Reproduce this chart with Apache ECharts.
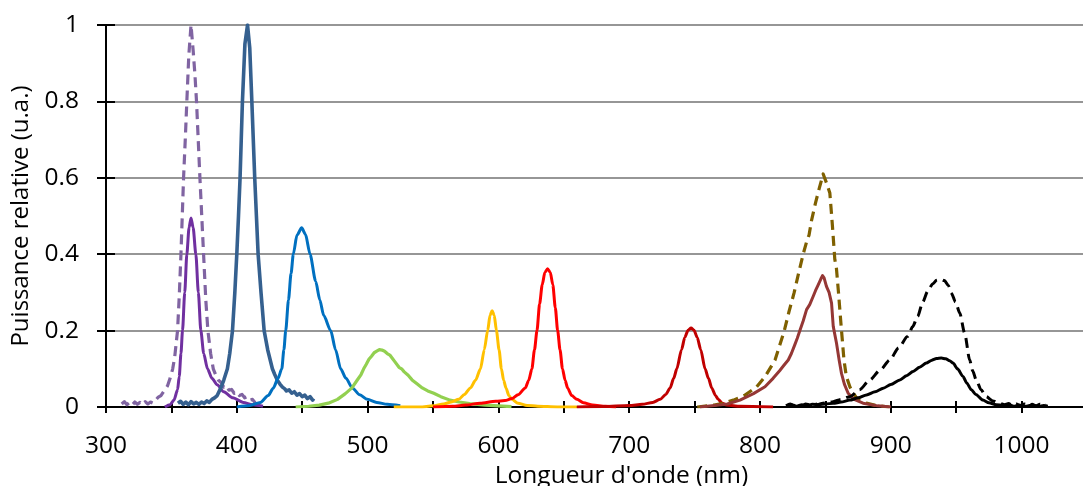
<!DOCTYPE html>
<html><head><meta charset="utf-8">
<script src="https://cdn.jsdelivr.net/npm/echarts@6/dist/echarts.min.js"></script>
<style>html,body{margin:0;padding:0;background:#fff}#c{width:1083px;height:486px}</style>
</head><body><div id="c"></div>
<script>
// Wavelength (nm) / relative power pairs
const uvDashed = [[312,0.008],[314,0.014],[316,0.006],[318,0.012],[320,0.005],[322,0.013],[324,0.007],[326,0.012],[328,0.006],[330,0.014],[332,0.008],[334,0.013],[336,0.01],[338,0.018],[340,0.026],[342,0.03],[345,0.045],[347,0.055],[349,0.075],[351,0.1],[352.5,0.13],[354.7,0.2],[356,0.29],[357.3,0.4],[358.3,0.5],[359.3,0.6],[360.6,0.7],[361.8,0.8],[363.3,0.92],[365,1.0],[366.7,0.93],[368,0.87],[369.2,0.8],[370.5,0.7],[371.8,0.6],[373.2,0.5],[374.6,0.4],[376.3,0.28],[377.9,0.2],[380,0.14],[382,0.1],[384,0.083],[386,0.07],[388,0.064],[390,0.052],[392,0.056],[394,0.044],[396,0.046],[398,0.036],[400,0.04],[402,0.03],[404,0.033],[406,0.024],[408,0.027],[410,0.018],[412,0.02],[414,0.011],[415,0.012]];
const uvSolid = [[345,0.0],[349,0.006],[352,0.018],[354.7,0.045],[356,0.08],[357.3,0.14],[358.5,0.2],[360.2,0.3],[361.8,0.4],[363.5,0.47],[365,0.495],[366.6,0.47],[368.7,0.4],[370.6,0.3],[372.5,0.2],[374.7,0.14],[377.6,0.1],[381,0.075],[385,0.058],[390,0.04],[397,0.024],[405,0.012],[412,0.006],[420,0.002]];
const violet = [[355,0.01],[357,0.015],[359,0.007],[361,0.013],[363,0.006],[365,0.014],[367,0.008],[369,0.012],[371,0.007],[373,0.013],[375,0.009],[377,0.016],[379,0.012],[381,0.02],[383,0.024],[385,0.03],[387.8,0.05],[390,0.07],[392.8,0.1],[394.6,0.14],[396.7,0.2],[398.5,0.3],[400,0.4],[401.3,0.5],[402.5,0.6],[403.4,0.7],[404.3,0.8],[406.2,0.95],[408.2,1.0],[409.9,0.94],[411.5,0.8],[412.6,0.7],[413.7,0.6],[415,0.5],[416.3,0.4],[418.5,0.3],[420.9,0.2],[423.6,0.15],[427.2,0.1],[429,0.085],[431,0.07],[433,0.06],[434.9,0.052],[436.5,0.048],[438,0.042],[440,0.045],[442,0.036],[444,0.04],[446,0.031],[448,0.035],[450,0.027],[452,0.031],[454,0.022],[456,0.027],[458,0.018],[458.8,0.022]];
const blue = [[400,0.0],[410,0.004],[418,0.012],[424,0.03],[428,0.05],[431.5,0.075],[434.4,0.1],[436,0.15],[437.4,0.2],[439.5,0.28],[441.5,0.35],[443.2,0.4],[446,0.45],[449.6,0.469],[452.5,0.452],[456,0.4],[460.3,0.329],[463.5,0.28],[466.4,0.24],[471.8,0.2],[475.5,0.15],[479.4,0.1],[483.5,0.075],[488.3,0.05],[494,0.032],[499.8,0.02],[507,0.012],[515,0.007],[525,0.003]];
const green = [[445,0.0],[455,0.002],[463,0.005],[470,0.01],[477,0.02],[483,0.035],[488,0.05],[492,0.07],[495,0.085],[497,0.1],[499,0.112],[501,0.125],[503,0.133],[505,0.142],[507,0.146],[509,0.15],[511,0.149],[513,0.146],[515,0.14],[517,0.136],[519,0.127],[520.5,0.12],[522,0.116],[524,0.104],[526,0.1],[528,0.092],[531,0.083],[534,0.071],[538,0.06],[541.8,0.05],[546,0.042],[550.6,0.036],[556,0.027],[563,0.018],[570,0.013],[578,0.009],[590,0.005],[600,0.003],[610,0.001]];
const yellow = [[520,0.0],[540,0.0],[550,0.003],[558,0.008],[564,0.013],[569.7,0.02],[574,0.033],[578.6,0.05],[582.5,0.07],[586.3,0.1],[589.2,0.15],[591.8,0.2],[593.6,0.24],[595.2,0.252],[596.8,0.24],[598.5,0.2],[600.5,0.15],[602.3,0.1],[604,0.07],[605.8,0.05],[608,0.03],[610.4,0.02],[615,0.01],[622,0.004],[630,0.002],[645,0.0],[660,0.0]];
const red = [[550,0.0],[565,0.002],[575,0.005],[586,0.01],[598,0.015],[605,0.017],[610.4,0.022],[615,0.032],[620.6,0.05],[623.2,0.07],[625.6,0.1],[627.6,0.15],[629.5,0.2],[631.5,0.27],[633.5,0.32],[635.5,0.352],[637.6,0.362],[639.7,0.352],[641.6,0.32],[643.5,0.26],[645.3,0.2],[647.1,0.15],[649,0.1],[651,0.07],[652.9,0.05],[656,0.03],[660,0.02],[665,0.011],[672,0.005],[682,0.002],[690,0.0]];
const deepRed = [[660,0.0],[680,0.001],[700,0.004],[710,0.007],[718,0.012],[723.7,0.02],[728,0.033],[731.3,0.05],[734,0.075],[736.4,0.1],[740,0.15],[742.5,0.182],[745,0.201],[747.3,0.2065],[749.6,0.201],[752,0.182],[754.7,0.15],[758,0.1],[760.6,0.075],[763.1,0.05],[766,0.03],[768.1,0.02],[771,0.01],[774.5,0.005],[785,0.002],[810,0.0]];
const irDashed = [[752,0.0],[765,0.005],[772,0.01],[779.7,0.018],[788,0.03],[797.5,0.053],[804,0.08],[811.5,0.123],[818.6,0.2],[822.2,0.25],[826,0.298],[829.5,0.35],[833,0.4],[836.1,0.438],[837.5,0.45],[839.5,0.49],[842.5,0.535],[845.5,0.575],[848.3,0.61],[851,0.585],[853.4,0.56],[855.4,0.473],[857.2,0.386],[858.4,0.364],[860,0.3],[862.2,0.205],[864.2,0.123],[866,0.08],[868.7,0.053],[871.2,0.037],[875,0.018],[881.3,0.01],[890,0.003],[899,0.0]];
const irSolid = [[754,0.0],[765,0.004],[775,0.008],[784.7,0.018],[795,0.035],[803.8,0.053],[810,0.075],[815,0.095],[818,0.108],[821.6,0.123],[824,0.14],[826.5,0.162],[828.5,0.18],[830.5,0.2],[833,0.225],[835.6,0.255],[838,0.268],[840.7,0.29],[842.5,0.305],[844.5,0.32],[846.5,0.335],[847.8,0.344],[849,0.338],[850.8,0.316],[852.8,0.3],[854.7,0.272],[856,0.211],[858.5,0.167],[860.5,0.123],[862.3,0.088],[864.5,0.06],[867.4,0.036],[872,0.02],[878.8,0.01],[890,0.003],[900,0.0]];
const nirDashed = [[820,0.003],[823,0.008],[826,0.004],[829,0.009],[832,0.003],[835,0.008],[838,0.005],[841,0.01],[844,0.006],[848,0.01],[852,0.011],[855.9,0.014],[862,0.02],[868.7,0.027],[876,0.045],[884,0.071],[892,0.097],[899.2,0.123],[906,0.155],[912.9,0.185],[916.7,0.21],[920.5,0.237],[924.5,0.275],[928.2,0.303],[932,0.322],[935,0.332],[937.7,0.335],[941,0.331],[944,0.318],[946.3,0.298],[949.5,0.275],[952.7,0.246],[956.5,0.193],[960.3,0.123],[962.6,0.095],[965.3,0.071],[969,0.045],[973,0.027],[978,0.016],[983,0.01],[987,0.006],[990,0.009],[993,0.004],[996,0.008],[999,0.003],[1002,0.008],[1005,0.004],[1008,0.007],[1011,0.003],[1014,0.007],[1017,0.003],[1019,0.005]];
const nirSolid = [[820,0.002],[824,0.006],[828,0.002],[832,0.006],[836,0.003],[840,0.007],[845,0.006],[850,0.008],[856,0.0097],[862,0.013],[868.7,0.018],[875,0.024],[881.4,0.0315],[888,0.04],[894.2,0.049],[900,0.059],[906.9,0.071],[912,0.082],[917,0.093],[922,0.104],[927.2,0.115],[931,0.122],[935,0.127],[938.6,0.128],[942,0.126],[945,0.121],[947.6,0.115],[951,0.1],[955.2,0.08],[958,0.063],[961.6,0.045],[965,0.033],[970.4,0.018],[975,0.011],[980.6,0.006],[986,0.004],[990,0.006],[994,0.002],[998,0.005],[1003,0.002],[1008,0.005],[1013,0.002],[1017,0.004],[1020,0.002]];

const xTicks = [300,400,500,600,700,800,900,1000];
const yTicks = [0,0.2,0.4,0.6,0.8,1];

const FONT = 'Open Sans';
function line(data, color, opts) {
  opts = opts || {};
  return {
    type: 'line', data: data, showSymbol: false, symbol: 'none',
    smooth: opts.smooth === undefined ? 0.25 : opts.smooth,
    smoothMonotone: 'x',
    lineStyle: { color: color, width: opts.width || 3, type: opts.dash ? [10, 6] : 'solid', cap: 'butt', join: 'round' },
    itemStyle: { color: color },
    animation: false, z: 3
  };
}

const chart = echarts.init(document.getElementById('c'), null, { renderer: 'canvas' });
chart.setOption({
  backgroundColor: '#fff',
  animation: false,
  grid: { left: 106, top: 25, bottom: 79, right: -4, containLabel: false, outerBoundsMode: 'none' },
  xAxis: [{
    type: 'value', min: 300, max: 1050, interval: 50,
    name: "Longueur d'onde (nm)", nameLocation: 'middle', nameGap: 53,
    nameTextStyle: { fontFamily: FONT, fontSize: 24.5, color: '#000', padding: [0, 0, 0, 50] },
    axisLine: { show: true, onZero: false, lineStyle: { color: '#000', width: 2 } },
    axisTick: { show: true, length: 6, lineStyle: { color: '#000', width: 2 } },
    axisLabel: { fontFamily: FONT, fontSize: 24.5, color: '#000', margin: 27,
      formatter: function (v) { return xTicks.indexOf(v) >= 0 ? String(v) : ''; } },
    splitLine: { show: false }
  }, {
    type: 'value', min: 300, max: 1050, interval: 50, position: 'bottom',
    axisLine: { show: false }, axisLabel: { show: false }, splitLine: { show: false },
    axisTick: { show: true, inside: true, length: 6, lineStyle: { color: '#000', width: 2 } }
  }],
  yAxis: [{
    type: 'value', min: 0, max: 1, interval: 0.2,
    name: 'Puissance relative (u.a.)', nameLocation: 'middle', nameGap: 70,
    nameTextStyle: { fontFamily: FONT, fontSize: 24, color: '#000' },
    axisLine: { show: true, onZero: false, lineStyle: { color: '#000', width: 2 } },
    axisTick: { show: true, length: 9, lineStyle: { color: '#000', width: 2 } },
    axisLabel: { fontFamily: FONT, fontSize: 24.5, color: '#000', margin: 27,
      formatter: function (v) { const t = yTicks.find(function (k) { return Math.abs(k - v) < 1e-9; }); return t === undefined ? '' : String(t); } },
    splitLine: { show: true, lineStyle: { color: '#969696', width: 2 } }
  }, {
    type: 'value', min: 0, max: 1, interval: 0.2, position: 'left',
    axisLine: { show: false }, axisLabel: { show: false }, splitLine: { show: false },
    axisTick: { show: true, inside: true, length: 9, lineStyle: { color: '#000', width: 2 } }
  }],
  series: [
    line(uvDashed, '#8064A2', { dash: true, smooth: false, width: 3.2 }),
    line(uvSolid, '#7030A0'),
    line(violet, '#35608F', { smooth: false, width: 3.6 }),
    line(blue, '#0070C0'),
    line(green, '#92D050', { smooth: false, width: 3.2 }),
    line(yellow, '#FFC000'),
    line(red, '#FF0000'),
    line(deepRed, '#C00000'),
    line(irDashed, '#7F6000', { dash: true, smooth: false, width: 3.2 }),
    line(irSolid, '#953735', { smooth: false, width: 3 }),
    line(nirDashed, '#000000', { dash: true }),
    line(nirSolid, '#000000')
  ]
});
</script></body></html>
